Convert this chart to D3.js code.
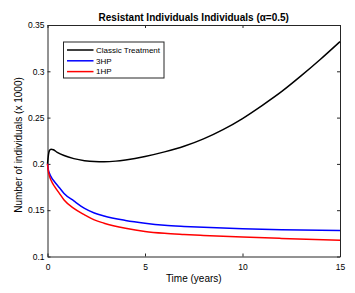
<!DOCTYPE html>
<html>
<head>
<meta charset="utf-8">
<script src="https://cdn.jsdelivr.net/npm/d3@7"></script>
<style>
  body { margin: 0; background: #fff; }
  svg { font-family: "Liberation Sans", Arial, sans-serif; }
</style>
</head>
<body>
<div id="chart"></div>
<script>
// Resistant individuals, alpha = 0.5
const tClassic = [0, 0.05, 0.1, 0.18, 0.3, 0.5, 0.85, 1.35, 1.9, 2.4, 2.9, 3.5, 4, 5, 6, 7, 8, 9, 10, 11, 12, 13, 14, 15];
const vClassic = [0.200, 0.210, 0.2145, 0.2158, 0.2153, 0.2125, 0.209, 0.2057, 0.2035, 0.2025, 0.2023, 0.2030, 0.2043, 0.208, 0.213, 0.219, 0.227, 0.237, 0.249, 0.263, 0.278, 0.295, 0.313, 0.332];

const tHP = [0, 0.05, 0.1, 0.2, 0.35, 0.6, 0.85, 1.35, 1.9, 2.4, 2.9, 4, 5, 6, 7, 8, 10, 12, 15];
const v3HP = [0.200, 0.193, 0.190, 0.1855, 0.181, 0.1745, 0.168, 0.160, 0.152, 0.147, 0.1437, 0.139, 0.136, 0.1338, 0.1325, 0.1315, 0.130, 0.129, 0.128];
const v1HP = [0.200, 0.191, 0.187, 0.1815, 0.176, 0.1685, 0.161, 0.152, 0.145, 0.1395, 0.136, 0.1305, 0.127, 0.125, 0.1238, 0.1228, 0.121, 0.1195, 0.1175];

const seriesNames = ["Classic Treatment", "3HP", "1HP"];
const seriesColors = ["#000000", "#0000ff", "#ff0000"];
const xTicks = [0, 5, 10, 15];
const yTicks = [0.1, 0.15, 0.2, 0.25, 0.3, 0.35];

const W = 355, H = 293;
const margin = {top: 25, right: 15, bottom: 36.5, left: 47.5};
const width = W - margin.left - margin.right;
const height = H - margin.top - margin.bottom;

const svg = d3.select("#chart").append("svg")
    .attr("width", W)
    .attr("height", H);

const g = svg.append("g")
    .attr("transform", "translate(" + margin.left + "," + margin.top + ")");

const x = d3.scaleLinear().domain([0, 15]).range([0, width]);
const y = d3.scaleLinear().domain([0.1, 0.35]).range([height, 0]);

// axes (box with inward ticks)
const axisColor = "#262626";
g.append("g")
    .attr("transform", "translate(0," + height + ")")
    .call(d3.axisBottom(x).tickValues(xTicks).tickSizeInner(-3).tickSizeOuter(0).tickPadding(7).tickFormat(d3.format("d")));
g.append("g")
    .call(d3.axisLeft(y).tickValues(yTicks).tickSizeInner(-3).tickSizeOuter(0).tickPadding(3).tickFormat(d => String(+d.toFixed(2))));
g.append("g")
    .call(d3.axisTop(x).tickValues(xTicks).tickSizeInner(-3).tickSizeOuter(0).tickFormat(""));
g.append("g")
    .attr("transform", "translate(" + width + ",0)")
    .call(d3.axisRight(y).tickValues(yTicks).tickSizeInner(-3).tickSizeOuter(0).tickFormat(""));

g.selectAll(".domain").attr("stroke", axisColor).attr("stroke-width", 1);
g.selectAll(".tick line").attr("stroke", axisColor);
g.selectAll(".tick text").attr("font-size", 8.5).attr("fill", "#000")
    .attr("font-family", "Liberation Sans, Arial, sans-serif");

// lines
const line = d3.line()
    .x(d => x(d[0]))
    .y(d => y(d[1]))
    .curve(d3.curveMonotoneX);

const data = [
  d3.zip(tClassic, vClassic),
  d3.zip(tHP, v3HP),
  d3.zip(tHP, v1HP)
];

g.selectAll(".series")
  .data(data)
  .enter().append("path")
    .attr("class", "series")
    .attr("fill", "none")
    .attr("stroke", (d, i) => seriesColors[i])
    .attr("stroke-width", 1.5)
    .attr("d", line);

// legend
const legend = g.append("g").attr("transform", "translate(16,17)");
legend.append("rect")
    .attr("width", 100.5)
    .attr("height", 36)
    .attr("fill", "#fff")
    .attr("stroke", axisColor)
    .attr("stroke-width", 1);
const items = legend.selectAll(".item")
  .data(seriesNames)
  .enter().append("g")
    .attr("transform", (d, i) => "translate(0," + (8 + i * 10.8) + ")");
items.append("line")
    .attr("x1", 3.5).attr("x2", 30)
    .attr("stroke", (d, i) => seriesColors[i])
    .attr("stroke-width", 1.5);
items.append("text")
    .attr("x", 32.5)
    .attr("dy", "0.35em")
    .attr("font-size", 8)
    .text(d => d);

// title and labels
svg.append("text")
    .attr("x", margin.left + width / 2)
    .attr("y", 21)
    .attr("text-anchor", "middle")
    .attr("font-size", 10)
    .attr("font-weight", "bold")
    .text("Resistant Individuals Individuals (α=0.5)");

svg.append("text")
    .attr("x", margin.left + width / 2)
    .attr("y", 282)
    .attr("text-anchor", "middle")
    .attr("font-size", 10)
    .text("Time (years)");

svg.append("text")
    .attr("transform", "rotate(-90)")
    .attr("x", -145)
    .attr("y", 22)
    .attr("text-anchor", "middle")
    .attr("font-size", 10)
    .text("Number of individuals (x 1000)");
</script>
</body>
</html>
